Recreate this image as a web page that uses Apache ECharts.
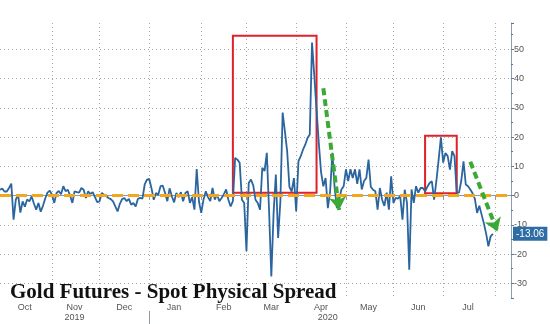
<!DOCTYPE html>
<html>
<head>
<meta charset="utf-8">
<script src="https://cdn.jsdelivr.net/npm/echarts@6/dist/echarts.min.js"></script>
<style>
  html, body { margin: 0; padding: 0; background: #fff; }
  #chart { width: 550px; height: 324px; }
</style>
</head>
<body>
<div id="chart"></div>
<script>
// Gold futures minus spot physical spread, one value per business day
const spreadOct2019 = [2.0, 2.4, 1.4, 1.4, 2.6, 4.1, -8.2, -1.4, 0.3, -5.8, -2.0, -3.8, -1.3, -2.0, -0.3, -2.7, -4.8, -2.5, -5.5, -3.5, -1.0, 1.0, 1.7];
const spreadNov2019 = [0.3, -2.5, 0.9, 1.6, 0.5, 3.2, 1.5, 2.0, 0.0, -2.5, 1.5, 1.2, 1.0, 2.6, 2.0, -0.8, 1.5, 0.5, 1.2, -0.5, -2.2];
const spreadDec2019 = [-2.0, 0.9, 0.3, -0.2, -0.8, -1.2, -2.0, -3.7, -5.4, -2.8, -1.2, -0.8, -1.9, -1.1, -3.1, -2.5, -3.7, -1.1, -0.8, -1.0, 3.8, 5.5];
const spreadJan2020 = [5.7, 2.5, -1.4, 0.9, 0.3, 3.2, 3.4, 0.9, -1.9, 2.5, -0.2, -2.3, 0.9, -0.5, 1.2, -1.9, 0.9, 1.5, -2.5, -0.5, -4.8, 9.1, -2.0];
const spreadFeb2020 = [-5.9, -1.4, 1.5, -0.5, -1.9, 2.6, -1.4, 0.4, -1.9, -0.8, 0.4, 2.1, -1.4, -3.7, -1.9, 12.9, 12.3, 11.2, -1.4, -2.5];
const spreadMar2020 = [-19.0, 4.3, 5.5, 3.5, -1.4, -2.5, -4.8, 9.5, 8.4, 14.6, -5.0, -27.6, -6.0, 7.2, -14.5, -2.0, 28.4, 22.0, 15.2, 3.0, 1.4, 6.0];
const spreadApr2020 = [-5.4, 11.8, 13.5, 15.7, 17.4, 19.7, 20.9, 52.3, 41.0, 29.4, 18.0, 8.0, 3.2, 6.0, -4.3, 1.4, 14.6, 2.6, -4.3, -1.4, 2.1, 3.2];
const spreadMay2020 = [9.0, 5.0, 9.0, 6.0, 9.0, 4.0, 9.0, 2.1, 5.0, 6.0, 12.3, 3.0, 2.0, 1.5, -4.8, 2.6, -1.4, -3.5, 1.0, -4.8, 6.6];
const spreadJun2020 = [-2.5, -0.8, -1.0, -0.2, -8.2, 2.0, -2.5, -25.3, 2.1, -2.5, 3.2, 1.0, 2.6, 2.6, 1.5, 3.0, 4.3, 4.9, -1.4, 5.0, 12.3, 19.9];
const spreadJul2020 = [11.3, 14.6, 13.5, 8.9, 15.2, 13.5, 1.0, 1.0, 5.0, 11.7, 3.8, 3.2, 2.1, 0.8, -1.0, -5.9, -3.5, -6.5, -9.5, -13.0, -17.3, -13.9, -13.06];

const lastValue = -13.06;
const zeroLevel = 0;

// Axis labels
const monthLabels = ['Jan', 'Feb', 'Mar', 'Apr', 'May', 'Jun', 'Jul', 'Aug', 'Sep', 'Oct', 'Nov', 'Dec'];
const yearLabels = { '2019-11-15': '2019', '2020-04-21': '2020' };
const yearDivider = '2020-01-01';
const axisStart = '2019-10-01';
const axisEnd = '2020-08-12';

// Highlight boxes: [from, to, low, high]
const boxSpring = ['2020-02-21', '2020-04-14', 1.0, 54.6];
const boxSummer = ['2020-06-19', '2020-07-09', 0.8, 20.5];
// Trend arrows: [from, value, to, value]
const arrowApril = ['2020-04-17', 36.7, '2020-04-28', -4.9];
const arrowJuly = ['2020-07-17', 11.6, '2020-08-04', -12.3];

// Business-day calendar for the horizontal axis
function businessDays(from, to) {
  const out = [];
  const d = new Date(from + 'T00:00:00Z');
  const end = new Date(to + 'T00:00:00Z');
  while (d <= end) {
    const wd = d.getUTCDay();
    if (wd !== 0 && wd !== 6) out.push(d.toISOString().slice(0, 10));
    d.setUTCDate(d.getUTCDate() + 1);
  }
  return out;
}
const days = businessDays(axisStart, axisEnd);
const spread = [].concat(spreadOct2019, spreadNov2019, spreadDec2019, spreadJan2020, spreadFeb2020,
  spreadMar2020, spreadApr2020, spreadMay2020, spreadJun2020, spreadJul2020);

// First day of each month, and the middle day where the month name goes
const monthStart = new Set();
const monthMid = new Map();
(function () {
  const groups = {};
  days.forEach((d, i) => {
    const key = d.slice(0, 7);
    (groups[key] = groups[key] || []).push(i);
  });
  Object.keys(groups).forEach(key => {
    const idx = groups[key];
    if (idx[0] !== 0) monthStart.add(idx[0]);
    if (idx.length > 15) monthMid.set(idx[Math.floor(idx.length / 2)], monthLabels[+key.slice(5, 7) - 1]);
  });
})();

const labelFont = "'Liberation Sans Narrow', 'Liberation Sans', sans-serif";
const gridDots = { color: '#a9a9a9', width: 1, type: [1, 3] };

const chart = echarts.init(document.getElementById('chart'), null, { renderer: 'canvas' });
chart.setOption({
  animation: false,
  backgroundColor: '#fff',
  title: {
    text: 'Gold Futures - Spot Physical Spread',
    left: 5, top: 277,
    textStyle: { fontFamily: "'Liberation Serif', serif", fontWeight: 'bold', fontSize: 21, color: '#111' }
  },
  grid: { left: 0, right: 39, top: 23, bottom: 26 },
  xAxis: [
    {
      type: 'category', data: days, boundaryGap: false,
      axisLine: { show: true, lineStyle: { color: '#8d99a6', width: 1 } },
      axisTick: { show: true, length: 4, interval: (i) => monthStart.has(i), lineStyle: { color: '#8d99a6' } },
      splitLine: { show: true, interval: (i) => monthStart.has(i), lineStyle: gridDots },
      axisLabel: {
        interval: (i) => monthMid.has(i),
        formatter: (v, i) => monthMid.get(i) || '',
        margin: 5, fontSize: 9, color: '#555', fontFamily: labelFont
      }
    },
    {
      type: 'category', data: days, boundaryGap: false, position: 'bottom', offset: 13,
      axisLine: { show: false },
      axisTick: { show: true, length: 13, interval: (i) => days[i] === yearDivider ||
        (days[i] > yearDivider && days[i - 1] < yearDivider), lineStyle: { color: '#8d99a6' } },
      splitLine: { show: false },
      axisLabel: {
        interval: (i, v) => v in yearLabels,
        formatter: (v) => yearLabels[v] || '',
        margin: 2, fontSize: 9, color: '#555', fontFamily: labelFont
      }
    }
  ],
  yAxis: {
    type: 'value', position: 'right', min: -35, max: 59, splitNumber: 9,
    axisLine: { show: true, lineStyle: { color: '#8b9db3', width: 1 } },
    axisTick: { show: true, inside: false, length: 3, lineStyle: { color: '#4f79a6' } },
    minorTick: { show: true, splitNumber: 2, length: 2, lineStyle: { color: '#4f79a6' } },
    splitLine: { show: true, showMinLine: false, showMaxLine: false, lineStyle: gridDots },
    axisLabel: {
      margin: 3, fontSize: 9, color: '#555', fontFamily: labelFont,
      formatter: (v) => (v % 10 === 0 ? String(v) : '')
    }
  },
  series: [
    {
      name: 'Spread', type: 'line', data: spread, showSymbol: false, z: 2,
      lineStyle: { color: '#2b65a0', width: 1.8 }
    },
    {
      name: 'Notes', type: 'line', data: [], z: 5, silent: true,
      markArea: {
        silent: true,
        itemStyle: { color: 'rgba(0,0,0,0)', borderColor: '#e0202a', borderWidth: 2 },
        data: [
          [{ coord: [boxSpring[0], boxSpring[3]] }, { coord: [boxSpring[1], boxSpring[2]] }],
          [{ coord: [boxSummer[0], boxSummer[3]] }, { coord: [boxSummer[1], boxSummer[2]] }]
        ]
      },
      markLine: {
        silent: true, symbol: 'none', animation: false,
        data: [
          {
            yAxis: zeroLevel,
            lineStyle: { color: '#f2a71e', width: 3, type: [11, 5] },
            label: { show: false }
          },
          [
            { coord: [arrowApril[0], arrowApril[1]], symbol: 'none' },
            { coord: [arrowApril[2], arrowApril[3]], symbol: 'arrow', symbolSize: [13, 13] }
          ],
          [
            { coord: [arrowJuly[0], arrowJuly[1]], symbol: 'none' },
            { coord: [arrowJuly[2], arrowJuly[3]], symbol: 'arrow', symbolSize: [13, 13] }
          ]
        ],
        lineStyle: { color: '#3aaa35', width: 4, type: [7, 4] },
        label: { show: false }
      }
    },
    {
      name: 'Last', type: 'line', data: [], z: 6, silent: true,
      markLine: {
        silent: true, symbol: 'none', animation: false,
        lineStyle: { color: 'rgba(0,0,0,0)', width: 1 },
        label: {
          show: true, position: 'end', distance: 2,
          backgroundColor: '#2e6da4', color: '#fff', padding: [2, 3, 2, 3],
          fontSize: 10, fontFamily: labelFont,
          formatter: () => String(lastValue)
        },
        data: [{ yAxis: lastValue }]
      }
    }
  ]
});
</script>
</body>
</html>
